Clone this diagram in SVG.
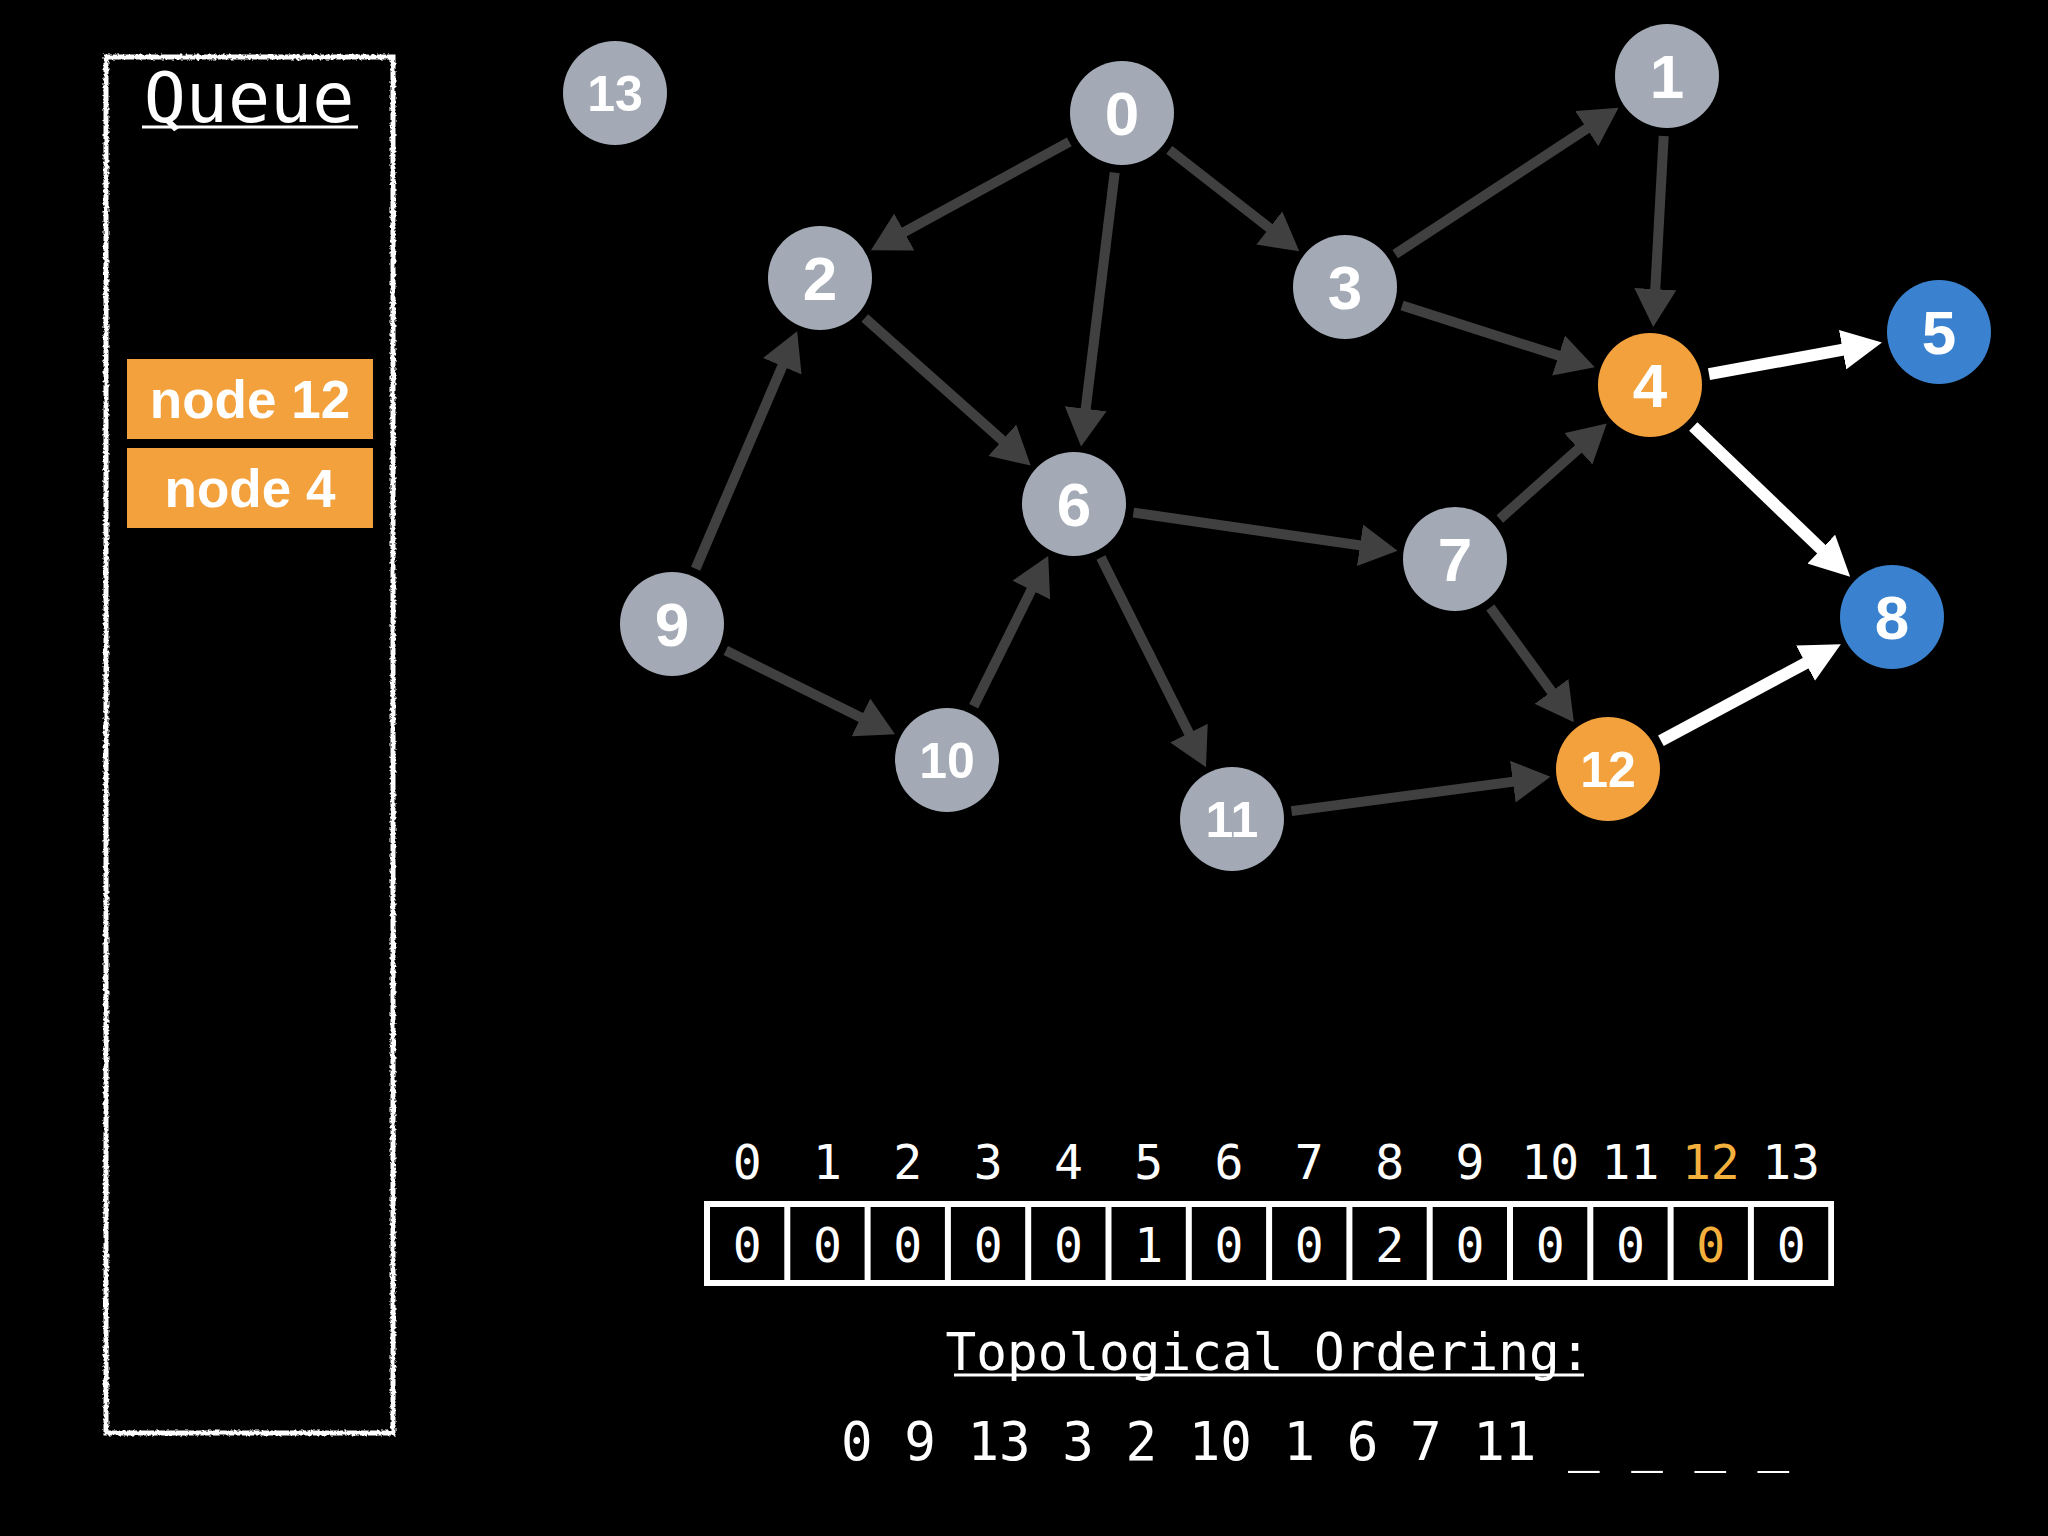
<svg xmlns="http://www.w3.org/2000/svg" width="2048" height="1536" viewBox="0 0 2048 1536">
<style>
.node-gray{fill:#a3aab5}
.node-orange{fill:#f3a13d}
.node-blue{fill:#3a82cf}
.lbl1{font-family:"Liberation Sans",Arial,sans-serif;font-weight:bold;font-size:62px;fill:#fff;text-anchor:middle}
.lbl2{font-family:"Liberation Sans",Arial,sans-serif;font-weight:bold;font-size:50px;fill:#fff;text-anchor:middle}
.edge{stroke:#404040;stroke-width:10;fill:none}
.edge-w{stroke:#fff;stroke-width:12;fill:none}
.mono{font-family:"DejaVu Sans Mono","Liberation Mono",monospace;fill:#fff}
.qitem{fill:#f3a13d}
.qtext{font-family:"Liberation Sans",Arial,sans-serif;font-weight:bold;font-size:53px;fill:#fff;text-anchor:middle}
.idx{font-size:48px;text-anchor:middle}
.cell{fill:#000}
</style>
<defs>
<marker id="ah" markerUnits="userSpaceOnUse" markerWidth="38" markerHeight="42" viewBox="0 0 38 42" refX="18" refY="21" orient="auto">
<path d="M0,0 L38,21 L0,42 z" fill="#404040"/>
</marker>
<marker id="ahw" markerUnits="userSpaceOnUse" markerWidth="40" markerHeight="40" viewBox="0 0 40 40" refX="20" refY="20" orient="auto">
<path d="M0,0 L40,20 L0,40 z" fill="#fff"/>
</marker>
<filter id="rough" x="-5%" y="-5%" width="110%" height="110%">
<feTurbulence type="fractalNoise" baseFrequency="0.35" numOctaves="2" seed="3"/>
<feDisplacementMap in="SourceGraphic" scale="4"/>
</filter>
</defs>
<rect width="2048" height="1536" fill="#000"/>

<g id="queue">
<rect x="106" y="57" width="287" height="1376" fill="none" stroke="#fff" stroke-width="5" filter="url(#rough)"/>
<text class="mono" x="249" y="122" font-size="70" text-anchor="middle">Queue</text>
<line x1="142" y1="127" x2="358" y2="127" stroke="#fff" stroke-width="3"/>
</g>
<g id="queue-node12">
<rect class="qitem" x="127" y="359" width="246" height="80"/>
<text class="qtext" x="250" y="418">node 12</text>
</g>
<g id="queue-node4">
<rect class="qitem" x="127" y="448" width="246" height="80"/>
<text class="qtext" x="250" y="507">node 4</text>
</g>

<g id="connectors">
<line class="edge" x1="1069.3" y1="141.8" x2="888.5" y2="240.6" marker-end="url(#ah)"/>
<line class="edge" x1="1114.7" y1="172.6" x2="1083.5" y2="426.6" marker-end="url(#ah)"/>
<line class="edge" x1="1169.3" y1="149.9" x2="1283.5" y2="239" marker-end="url(#ah)"/>
<line class="edge" x1="1395.2" y1="254.1" x2="1601.8" y2="118.8" marker-end="url(#ah)"/>
<line class="edge" x1="1402.1" y1="305.4" x2="1575.7" y2="361.1" marker-end="url(#ah)"/>
<line class="edge" x1="1663.7" y1="135.9" x2="1654.3" y2="307.1" marker-end="url(#ah)"/>
<line class="edge" x1="864.8" y1="317.9" x2="1015.7" y2="452.2" marker-end="url(#ah)"/>
<line class="edge" x1="695.6" y1="568.8" x2="789.3" y2="349.7" marker-end="url(#ah)"/>
<line class="edge" x1="725.8" y1="650.6" x2="877.1" y2="725.4" marker-end="url(#ah)"/>
<line class="edge" x1="973.7" y1="706.3" x2="1039.3" y2="573.9" marker-end="url(#ah)"/>
<line class="edge" x1="1133.4" y1="512.6" x2="1377.8" y2="547.9" marker-end="url(#ah)"/>
<line class="edge" x1="1100.9" y1="557.6" x2="1197" y2="749.3" marker-end="url(#ah)"/>
<line class="edge" x1="1499.8" y1="519" x2="1591.8" y2="436.9" marker-end="url(#ah)"/>
<line class="edge" x1="1490.3" y1="607.5" x2="1562.1" y2="706" marker-end="url(#ah)"/>
<line class="edge" x1="1291.5" y1="811.1" x2="1530.7" y2="779.3" marker-end="url(#ah)"/>
<line class="edge-w" x1="1709" y1="374.2" x2="1862.3" y2="346.1" marker-end="url(#ahw)"/>
<line class="edge-w" x1="1693.3" y1="426.5" x2="1835.7" y2="563" marker-end="url(#ahw)"/>
<line class="edge-w" x1="1660.9" y1="740.7" x2="1823.2" y2="653.8" marker-end="url(#ahw)"/>
</g>

<g id="node-0"><circle class="node-gray" cx="1122" cy="113" r="52"/><text class="lbl1" x="1122" y="135">0</text></g>
<g id="node-1"><circle class="node-gray" cx="1667" cy="76" r="52"/><text class="lbl1" x="1667" y="98">1</text></g>
<g id="node-2"><circle class="node-gray" cx="820" cy="278" r="52"/><text class="lbl1" x="820" y="300">2</text></g>
<g id="node-3"><circle class="node-gray" cx="1345" cy="287" r="52"/><text class="lbl1" x="1345" y="309">3</text></g>
<g id="node-4"><circle class="node-orange" cx="1650" cy="385" r="52"/><text class="lbl1" x="1650" y="407">4</text></g>
<g id="node-5"><circle class="node-blue" cx="1939" cy="332" r="52"/><text class="lbl1" x="1939" y="354">5</text></g>
<g id="node-6"><circle class="node-gray" cx="1074" cy="504" r="52"/><text class="lbl1" x="1074" y="526">6</text></g>
<g id="node-7"><circle class="node-gray" cx="1455" cy="559" r="52"/><text class="lbl1" x="1455" y="581">7</text></g>
<g id="node-8"><circle class="node-blue" cx="1892" cy="617" r="52"/><text class="lbl1" x="1892" y="639">8</text></g>
<g id="node-9"><circle class="node-gray" cx="672" cy="624" r="52"/><text class="lbl1" x="672" y="646">9</text></g>
<g id="node-10"><circle class="node-gray" cx="947" cy="760" r="52"/><text class="lbl2" x="947" y="778">10</text></g>
<g id="node-11"><circle class="node-gray" cx="1232" cy="819" r="52"/><text class="lbl2" x="1232" y="837">11</text></g>
<g id="node-12"><circle class="node-orange" cx="1608" cy="769" r="52"/><text class="lbl2" x="1608" y="787">12</text></g>
<g id="node-13"><circle class="node-gray" cx="615" cy="93" r="52"/><text class="lbl2" x="615" y="111">13</text></g>

<g id="indegree-array">
<rect x="704" y="1201" width="1130" height="85" fill="#fff"/>
<rect class="cell" x="710" y="1207" width="74.3" height="73"/>
<rect class="cell" x="790.3" y="1207" width="74.3" height="73"/>
<rect class="cell" x="870.6" y="1207" width="74.3" height="73"/>
<rect class="cell" x="950.9" y="1207" width="74.3" height="73"/>
<rect class="cell" x="1031.2" y="1207" width="74.3" height="73"/>
<rect class="cell" x="1111.5" y="1207" width="74.3" height="73"/>
<rect class="cell" x="1191.8" y="1207" width="74.3" height="73"/>
<rect class="cell" x="1272.1" y="1207" width="74.3" height="73"/>
<rect class="cell" x="1352.4" y="1207" width="74.3" height="73"/>
<rect class="cell" x="1432.7" y="1207" width="74.3" height="73"/>
<rect class="cell" x="1513" y="1207" width="74.3" height="73"/>
<rect class="cell" x="1593.3" y="1207" width="74.3" height="73"/>
<rect class="cell" x="1673.6" y="1207" width="74.3" height="73"/>
<rect class="cell" x="1753.9" y="1207" width="74.3" height="73"/>
<g class="mono idx">
<text x="747.2" y="1179">0</text>
<text x="827.5" y="1179">1</text>
<text x="907.8" y="1179">2</text>
<text x="988.1" y="1179">3</text>
<text x="1068.4" y="1179">4</text>
<text x="1148.7" y="1179">5</text>
<text x="1229" y="1179">6</text>
<text x="1309.3" y="1179">7</text>
<text x="1389.6" y="1179">8</text>
<text x="1469.9" y="1179">9</text>
<text x="1550.2" y="1179">10</text>
<text x="1630.5" y="1179">11</text>
<text x="1710.8" y="1179" fill="#f4b03c">12</text>
<text x="1791.1" y="1179">13</text>
<text x="747.2" y="1262">0</text>
<text x="827.5" y="1262">0</text>
<text x="907.8" y="1262">0</text>
<text x="988.1" y="1262">0</text>
<text x="1068.4" y="1262">0</text>
<text x="1148.7" y="1262">1</text>
<text x="1229" y="1262">0</text>
<text x="1309.3" y="1262">0</text>
<text x="1389.6" y="1262">2</text>
<text x="1469.9" y="1262">0</text>
<text x="1550.2" y="1262">0</text>
<text x="1630.5" y="1262">0</text>
<text x="1710.8" y="1262" fill="#f4b03c">0</text>
<text x="1791.1" y="1262">0</text>
</g>
</g>

<g id="ordering">
<text class="mono" x="1268" y="1370" font-size="51" text-anchor="middle">Topological Ordering:</text>
<line x1="954" y1="1375" x2="1584" y2="1375" stroke="#fff" stroke-width="3"/>
<text class="mono" x="841" y="1460" font-size="52.5" xml:space="preserve">0 9 13 3 2 10 1 6 7 11 _ _ _ _</text>
</g>
</svg>
